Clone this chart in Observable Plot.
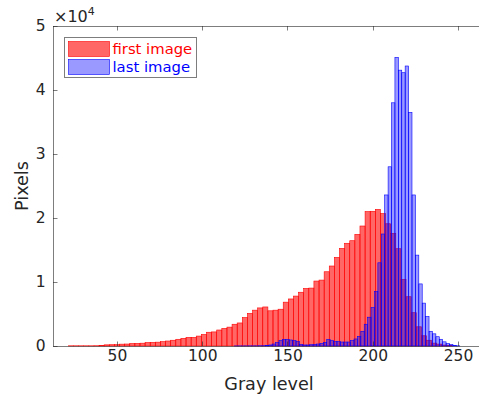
<!DOCTYPE html>
<html><head><meta charset="utf-8">
<script src="https://cdn.jsdelivr.net/npm/d3@7"></script>
<script src="https://cdn.jsdelivr.net/npm/@observablehq/plot@0.6"></script>
<style>
body{margin:0;background:#fff;}
#chart{width:479px;height:401px;}
</style>
</head><body><div id="chart"></div>
<script>
// ---- data ----
const redBinCenters = [23,26,29,32,35,38,41,44,47,50,53,56,59,62,65,68,71,74,77,80,83,86,89,92,95,98,101,104,107,110,113,116,119,122,125,128,131,134,137,140,143,146,149,152,155,158,161,164,167,170,173,176,179,182,185,188,191,194,197,200,203,206,209,212,215,218,221,224,227,230,233,236,239,242,245];
const redCounts = [30,30,30,30,30,40,60,180,200,220,290,310,390,410,440,540,570,600,680,780,900,1050,1200,1350,1350,1550,1800,2150,2200,2500,2750,2950,3400,3600,4450,5100,5600,5950,6100,5500,5600,5750,6850,7350,7800,8400,9000,9050,10150,10300,11600,12500,13850,15250,16050,16450,17450,18750,21000,21050,21350,20700,19100,17600,15200,10400,7700,5200,3000,1600,900,450,300,150,60];
const redBinWidth = 3;

const blueBinCenters = [120,122,124,126,128,130,132,134,136,138,140,142,144,146,148,150,152,154,156,158,160,162,164,166,168,170,172,174,176,178,180,182,184,186,188,190,192,194,196,198,200,202,204,206,208,210,212,214,216,218,220,222,224,226,228,230,232,234,236,238,240,242,244,246,248,250];
const blueCounts = [10,10,10,15,15,20,20,30,40,80,160,310,520,830,1040,1040,940,830,680,260,160,160,200,260,310,420,570,1040,830,680,680,620,620,620,830,1100,1500,2300,3400,4500,6000,8500,13000,17500,23600,28000,38000,45100,43100,42700,43750,36500,23600,14200,9700,6700,4600,2300,1900,1450,1050,650,380,220,100,30];
const blueBinWidth = 2;

const xTicks = [50,100,150,200,250];
const yTicks = [0,10000,20000,30000,40000,50000];
const yTickLabels = ["0","1","2","3","4","5"];
const seriesNames = ["first image","last image"];
const xLabel = "Gray level";
const yLabel = "Pixels";

const red = redBinCenters.map((c,i)=>({x1:c-redBinWidth/2, x2:c+redBinWidth/2, n:redCounts[i]}));
const blue = blueBinCenters.map((c,i)=>({x1:c-blueBinWidth/2, x2:c+blueBinWidth/2, n:blueCounts[i]}));

const FONT = "DejaVu Sans";
const AX = "#262626";

const chart = Plot.plot({
  width: 479, height: 401,
  marginLeft: 53, marginRight: 0, marginTop: 26, marginBottom: 55,
  x: {domain: [12.5, 262.3]},
  y: {domain: [0, 50000]},
  style: {fontFamily: FONT, background: "white", overflow: "visible"},
  marks: [
    Plot.rect(red, {x1:"x1", x2:"x2", y1:0, y2:"n", fill:"#ff0000", fillOpacity:0.6, stroke:"#ff0000", strokeWidth:0.6}),
    Plot.rect(blue, {x1:"x1", x2:"x2", y1:0, y2:"n", fill:"#0000ff", fillOpacity:0.4, stroke:"#0000ff", strokeWidth:0.6}),
    Plot.axisX({ticks: xTicks, tickSize: 0, tickPadding: 3, fontSize: 15.5, color: AX, label: null}),
    Plot.axisY({ticks: yTicks, tickSize: 0, tickPadding: 8, fontSize: 15.5, color: AX, label: null,
                tickFormat: d => yTickLabels[yTicks.indexOf(d)]})
  ]
});
document.getElementById("chart").appendChild(chart);

const sx = chart.scale("x"), sy = chart.scale("y");
const svg = d3.select(chart);
const x0 = sx.apply(sx.domain[0]), x1 = sx.apply(sx.domain[1]);
const y0 = sy.apply(0), yTop = sy.apply(50000);
const g = svg.append("g").attr("stroke", AX).attr("stroke-opacity", 0.6).attr("stroke-width", 1).attr("fill","none");
// axis lines
g.append("line").attr("x1", x0).attr("x2", x1).attr("y1", y0+0.5).attr("y2", y0+0.5);
g.append("line").attr("x1", x0).attr("x2", x1).attr("y1", yTop+0.5).attr("y2", yTop+0.5);
g.append("line").attr("x1", x0+0.5).attr("x2", x0+0.5).attr("y1", yTop).attr("y2", y0);
// inward ticks
const TL = 4.5;
xTicks.forEach(t => {
  const x = Math.round(sx.apply(t)) + 0.5;
  g.append("line").attr("x1", x).attr("x2", x).attr("y1", y0).attr("y2", y0 - TL);
  g.append("line").attr("x1", x).attr("x2", x).attr("y1", yTop).attr("y2", yTop + TL);
});
yTicks.forEach(t => {
  const y = Math.round(sy.apply(t)) + 0.5;
  g.append("line").attr("x1", x0).attr("x2", x0 + TL).attr("y1", y).attr("y2", y);
});

// exponent
const ex = svg.append("text").attr("x", x0 + 1).attr("y", 21.5).attr("fill", AX)
  .attr("text-anchor", "start").attr("font-family", FONT).attr("font-size", 16);
ex.append("tspan").text("×10");
ex.append("tspan").attr("font-size", 11).attr("dy", -7).text("4");

// axis labels
svg.append("text").attr("x", 269).attr("y", 390).attr("text-anchor","middle")
  .attr("fill", AX).attr("font-family", FONT).attr("font-size", 17.6).text(xLabel);
svg.append("text").attr("transform","translate(27.5,186) rotate(-90)").attr("text-anchor","middle")
  .attr("fill", AX).attr("font-family", FONT).attr("font-size", 17.6).text(yLabel);

// legend
const lg = svg.append("g");
lg.append("rect").attr("x", 64.5).attr("y", 37.5).attr("width", 132).attr("height", 40)
  .attr("fill", "white").attr("stroke", AX).attr("stroke-opacity", 0.6);
const legendColors = [["#ff0000",0.6],["#0000ff",0.4]];
seriesNames.forEach((name, i) => {
  const yy = 41.5 + i * 18;
  lg.append("rect").attr("x", 68.5).attr("y", yy).attr("width", 41).attr("height", 15)
    .attr("fill", legendColors[i][0]).attr("fill-opacity", legendColors[i][1])
    .attr("stroke", legendColors[i][0]).attr("stroke-width", 0.6);
  lg.append("text").attr("x", 112.5).attr("y", yy + 12).attr("fill", legendColors[i][0])
    .attr("text-anchor", "start").attr("font-family", FONT).attr("font-size", 14.8).text(name);
});
</script>
</body></html>
